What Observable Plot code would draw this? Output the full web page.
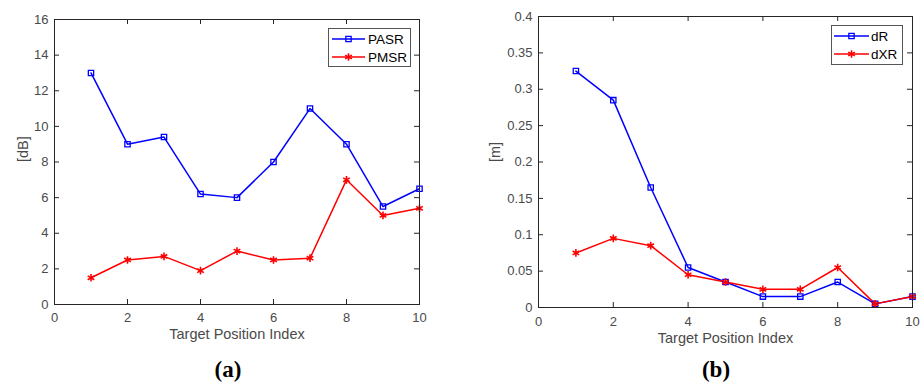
<!DOCTYPE html>
<html><head><meta charset="utf-8">
<script src="https://cdn.jsdelivr.net/npm/d3@7"></script>
<script src="https://cdn.jsdelivr.net/npm/@observablehq/plot@0.6"></script>
<style>
body{margin:0;background:#fff;}
#wrap{position:relative;width:920px;height:383px;overflow:hidden;font-family:"Liberation Sans",Arial,sans-serif;}
.panel{position:absolute;top:0;width:460px;height:350px;}
.cap{position:absolute;top:357px;width:60px;text-align:center;font-family:"Liberation Serif","DejaVu Serif",serif;font-weight:bold;font-size:23px;color:#000;line-height:26px;}
.legend{position:absolute;}
</style>
</head><body>
<div id="wrap">
  <div class="panel" id="pa" style="left:0"></div>
  <div class="panel" id="pb" style="left:460px"></div>
  <div class="cap" style="left:198px">(a)</div>
  <div class="cap" style="left:686px">(b)</div>
</div>
<script>
const idx = [1, 2, 3, 4, 5, 6, 7, 8, 9, 10];
const pasr = [13, 9, 9.4, 6.2, 6, 8, 11, 9, 5.5, 6.5];
const pmsr = [1.5, 2.5, 2.7, 1.9, 3, 2.5, 2.6, 7, 5, 5.4];
const dR  = [0.325, 0.285, 0.165, 0.055, 0.035, 0.015, 0.015, 0.035, 0.005, 0.015];
const dXR = [0.075, 0.095, 0.085, 0.045, 0.035, 0.025, 0.025, 0.055, 0.005, 0.015];
const xTicks = [0, 2, 4, 6, 8, 10];
const yTicksA = [0, 2, 4, 6, 8, 10, 12, 14, 16];
const yTicksB = [0, 0.05, 0.1, 0.15, 0.2, 0.25, 0.3, 0.35, 0.4];
const xTitle = "Target Position Index";

const BLUE = "#0000ff", RED = "#ff0000", AX = "#262626", TXT = "#4a4a4a";

function panel({s1, s2, yDomain, yTicks, yLabel, fmt, m, xPad, yDx, tDy}) {
  const W = 460, H = 350;
  const pw = W - m.left - m.right, ph = H - m.top - m.bottom;
  const d1 = idx.map((x, i) => ({x, y: s1[i]}));
  const d2 = idx.map((x, i) => ({x, y: s2[i]}));
  return Plot.plot({
    width: W, height: H,
    marginLeft: m.left, marginRight: m.right, marginTop: m.top, marginBottom: m.bottom,
    style: {fontFamily: "'Liberation Sans', Arial, sans-serif", fontSize: "13px", color: TXT, background: "#fff", overflow: "visible"},
    x: {domain: [0, 10]},
    y: {domain: yDomain},
    marks: [
      Plot.axisX(xTicks, {tickSize: 0, tickPadding: xPad, fontSize: 13, label: null, fill: TXT}),
      Plot.axisY(yTicks, {tickSize: 0, tickPadding: 6, fontSize: 13, label: null, fill: TXT, tickFormat: fmt}),
      Plot.ruleX(xTicks, {x: d => d, insetTop: ph - 5, stroke: AX}),
      Plot.ruleX(xTicks, {x: d => d, insetBottom: ph - 5, stroke: AX}),
      Plot.ruleY(yTicks, {y: d => d, insetRight: pw - 5, stroke: AX}),
      Plot.ruleY(yTicks, {y: d => d, insetLeft: pw - 5, stroke: AX}),
      Plot.line(d1, {x: "x", y: "y", stroke: BLUE, strokeWidth: 1.5}),
      Plot.line(d2, {x: "x", y: "y", stroke: RED, strokeWidth: 1.5}),
      Plot.dot(d1, {x: "x", y: "y", symbol: "square", r: 3, stroke: BLUE, fill: "none", strokeWidth: 1.3}),
      Plot.dot(d2, {x: "x", y: "y", symbol: "asterisk", r: 3.6, stroke: RED, strokeWidth: 1.6}),
      Plot.frame({stroke: AX, strokeWidth: 1}),
      Plot.text([xTitle], {text: d => d, frameAnchor: "bottom", dy: tDy, fontSize: 14.5, fill: TXT}),
      Plot.text([yLabel], {text: d => d, frameAnchor: "left", dx: yDx, rotate: -90, fontSize: 14.5, fill: TXT})
    ]
  });
}

function legend(el, {left, top, w, h, rows, lineX0, lineX1, textX}) {
  const svg = d3.select(el).append("svg").attr("class", "legend")
    .style("position", "absolute").style("left", left + "px").style("top", top + "px")
    .attr("width", w).attr("height", h);
  svg.append("rect").attr("x", 0.5).attr("y", 0.5).attr("width", w - 1).attr("height", h - 1)
    .attr("fill", "#fff").attr("stroke", "#555").attr("stroke-width", 1);
  rows.forEach(r => {
    const g = svg.append("g");
    g.append("line").attr("x1", lineX0).attr("x2", lineX1).attr("y1", r.y).attr("y2", r.y)
      .attr("stroke", r.color).attr("stroke-width", 1.5);
    const mx = (lineX0 + lineX1) / 2;
    const sym = r.sym === "square" ? d3.symbolSquare : d3.symbolAsterisk;
    const rad = r.sym === "square" ? 3 : 3.6;
    g.append("path").attr("d", d3.symbol(sym, rad * rad * Math.PI)())
      .attr("transform", `translate(${mx},${r.y})`)
      .attr("fill", "none").attr("stroke", r.color).attr("stroke-width", r.sym === "square" ? 1.3 : 1.6);
    g.append("text").attr("x", textX).attr("y", r.y).attr("dy", "0.35em")
      .attr("font-family", "'Liberation Sans', Arial, sans-serif").attr("font-size", 13.5)
      .attr("fill", "#000").text(r.label);
  });
}

const fmtA = d => String(d);
const fmtB = d => String(+d.toFixed(3));

document.getElementById("pa").append(panel({
  s1: pasr, s2: pmsr, yDomain: [0, 16], yTicks: yTicksA, yLabel: "[dB]", fmt: fmtA,
  m: {left: 54, right: 41, top: 19, bottom: 46}, xPad: 8, yDx: -31, tDy: 34
}));
document.getElementById("pb").append(panel({
  s1: dR, s2: dXR, yDomain: [0, 0.4], yTicks: yTicksB, yLabel: "[m]", fmt: fmtB,
  m: {left: 78, right: 8, top: 16, bottom: 43}, xPad: 9, yDx: -43, tDy: 35
}));

const wrap = document.getElementById("wrap");
legend(wrap, {left: 328, top: 28, w: 83, h: 39, lineX0: 4, lineX1: 37, textX: 40,
  rows: [{y: 11, color: BLUE, sym: "square", label: "PASR"}, {y: 29, color: RED, sym: "asterisk", label: "PMSR"}]});
legend(wrap, {left: 831, top: 25, w: 72, h: 40, lineX0: 3, lineX1: 38, textX: 40,
  rows: [{y: 11, color: BLUE, sym: "square", label: "dR"}, {y: 29, color: RED, sym: "asterisk", label: "dXR"}]});
</script>
</body></html>
